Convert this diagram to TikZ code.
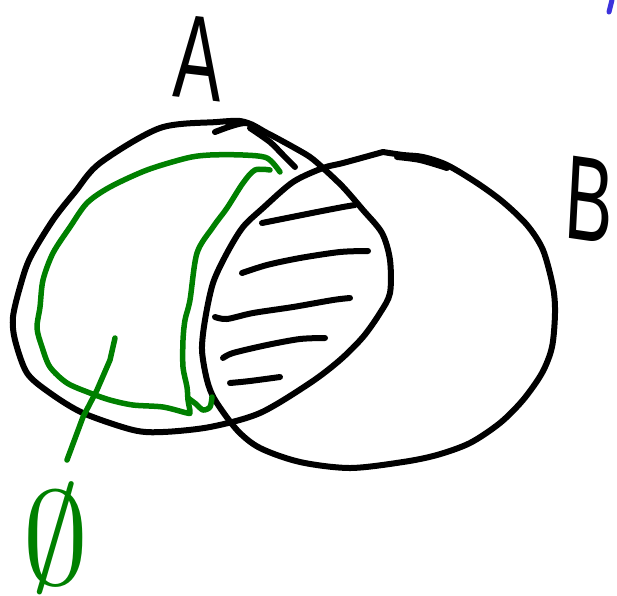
\documentclass[tikz,border=0pt]{standalone}
\usepackage{fontspec}
\setmainfont{Liberation Sans}
\definecolor{pengreen}{RGB}{0,128,0}
\definecolor{penblue}{RGB}{60,50,220}
\tikzset{
  inkblack/.style={draw=black,line width=6pt,line cap=round,line join=round},
  inkgreen/.style={draw=pengreen,line width=5.5pt,line cap=round,line join=round},
  letter/.style={font=\fontsize{120}{120}\selectfont,inner sep=0pt}
}
\begin{document}
\begin{tikzpicture}[x=1pt,y=-1pt]
\useasboundingbox (0,0) rectangle (617,595);
% set A
\draw[inkblack] plot[smooth,tension=0.5] coordinates {(215,132) (245,123) (267,133) (293,147) (310,157) (323,168) (343,187) (363,210) (382,233) (390,260) (390,293) (380,313) (363,337) (340,360) (310,383) (260,413) (210,427) (163,432) (133,430) (83,413) (50,393) (27,373) (15,340) (13,317) (20,287) (30,258) (53,220) (75,192) (100,163) (160,128) (217,122) (240,121) (253,125)};
\draw[inkblack] plot[smooth] coordinates {(250,128) (270,142) (283,155) (295,167)};
% set B
\draw[inkblack] plot[smooth,tension=0.5] coordinates {(383,152) (403,155) (423,157) (447,165) (477,183) (503,202) (527,225) (543,250) (553,287) (555,313) (552,347) (542,373) (523,400) (500,423) (470,443) (437,455) (403,462) (350,468) (300,462) (260,448) (237,430) (215,400) (207,380) (202,350) (205,320) (213,283) (227,253) (243,227) (263,208) (293,182) (323,168) (343,163) (383,152)};
\draw[inkblack] plot[smooth] coordinates {(397,157) (420,160) (447,168)};
% hatching
\draw[inkblack] plot[smooth] coordinates {(262,223) (287,218) (317,212) (343,207) (355,205)};
\draw[inkblack] plot[smooth] coordinates {(242,273) (267,265) (300,258) (340,252) (368,251)};
\draw[inkblack] plot[smooth] coordinates {(215,317) (227,319) (253,313) (293,307) (333,300) (350,298)};
\draw[inkblack] plot[smooth] coordinates {(223,358) (233,353) (267,345) (300,339) (325,338)};
\draw[inkblack] plot[smooth] coordinates {(230,383) (250,381) (280,377)};
% green region A minus B
\draw[inkgreen] plot[smooth,tension=0.5] coordinates {(280,172) (267,158) (243,155) (210,155) (187,158) (147,170) (110,187) (87,203) (70,227) (53,253) (43,280) (40,307) (37,328) (42,347) (50,367) (67,383) (90,393) (110,400) (133,405) (163,407) (187,413) (190,412) (188,400) (187,387) (183,367) (183,340) (185,320) (190,300) (197,253) (213,227) (227,208) (243,183) (255,170) (270,170)};
\draw[inkgreen] plot[smooth] coordinates {(188,398) (196,404) (203,410) (210,407) (212,397)};
\draw[inkgreen] (115,338) -- (110,360) -- (97,390) -- (83,417) -- (67,460);
% labels
\node[letter,xscale=0.6,rotate=-4] (labA) at (198,58) {A};
\node[letter,xscale=0.6,anchor=west,rotate=-5] (labB) at (566,196) {B};
\node[text=pengreen,inner sep=0pt] (empty) at (56,538) {\resizebox{!}{100pt}{$\emptyset$}};
% blue mark
\draw[draw=penblue,line width=5pt,line cap=round] (609,12) -- (612,0);
\end{tikzpicture}
\end{document}
